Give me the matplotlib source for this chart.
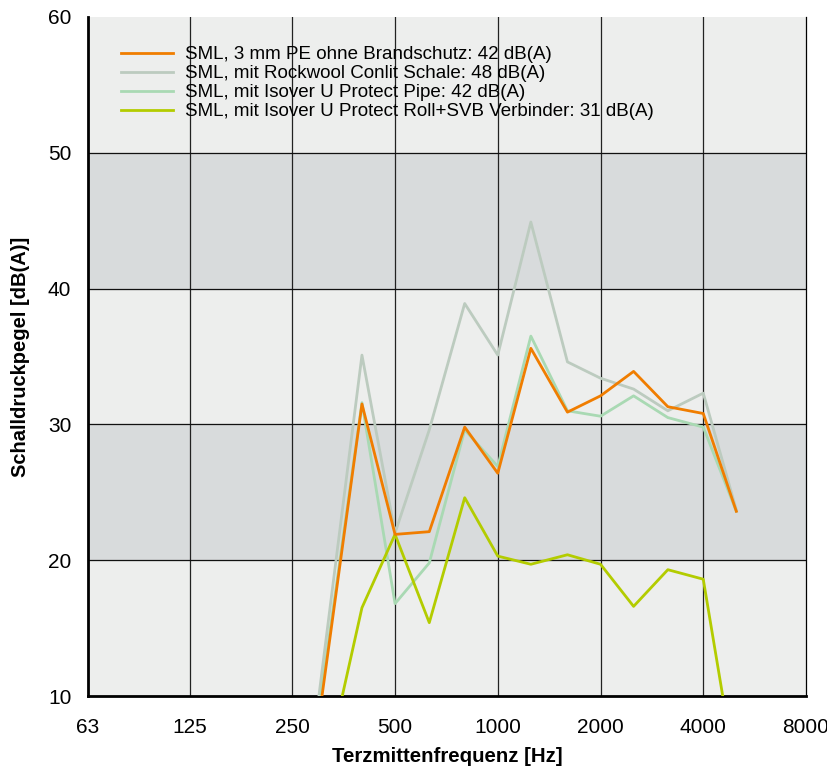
# Schalldruckpegel von SML-Rohren mit verschiedenen Daemmungen
import matplotlib.pyplot as plt
from matplotlib.ticker import FixedLocator, NullLocator

plt.rcParams['font.family'] = ['Liberation Sans', 'DejaVu Sans']

# Terzmittenfrequenzen der Messpunkte [Hz]
freqs = [250, 400, 500, 630, 800, 1000, 1250, 1600, 2000, 2500, 3150, 4000, 5000]

pe_ohne = [-6.0, 31.5, 21.9, 22.1, 29.8, 26.4, 35.6, 30.9, 32.1, 33.9, 31.3, 30.8, 23.6]
rockwool = [-5.5, 35.1, 22.0, 29.6, 38.9, 35.1, 44.9, 34.6, 33.4, 32.6, 31.0, 32.3, 23.7]
isover_pipe = [-5.0, 31.6, 16.8, 19.8, 29.6, 26.9, 36.5, 31.0, 30.6, 32.1, 30.5, 29.8, 23.6]
isover_roll = [-6.5, 16.5, 21.9, 15.4, 24.6, 20.3, 19.7, 20.4, 19.7, 16.6, 19.3, 18.6, 4.0]

labels = ['SML, 3 mm PE ohne Brandschutz: 42 dB(A)',
          'SML, mit Rockwool Conlit Schale: 48 dB(A)',
          'SML, mit Isover U Protect Pipe: 42 dB(A)',
          'SML, mit Isover U Protect Roll+SVB Verbinder: 31 dB(A)']
colors = ['#f07d00', '#bccbbf', '#a9d9b3', '#b3cc00']

xticks = [63, 125, 250, 500, 1000, 2000, 4000, 8000]
yticks = [10, 20, 30, 40, 50, 60]

fig = plt.figure(figsize=(8.27, 7.70), dpi=100)
ax = fig.add_axes([0.1064, 0.0961, 0.8682, 0.8819])

ax.set_facecolor('#edeeed')
for lo in (20, 40):
    ax.axhspan(lo, lo + 10, color='#d8dbdc', zorder=0)

series = [pe_ohne, rockwool, isover_pipe, isover_roll]
order = [1, 2, 0, 3]  # Zeichenreihenfolge
for i in order:
    ax.plot(freqs, series[i], color=colors[i], lw=2, label=labels[i], zorder=3 + (i == 0))

ax.set_xscale('log')
ax.set_xlim(63, 8000)
ax.set_ylim(10, 60)
ax.xaxis.set_major_locator(FixedLocator(xticks))
ax.xaxis.set_minor_locator(NullLocator())
ax.set_xticklabels([str(t) for t in xticks])
ax.set_yticks(yticks)

for t in xticks[1:-1]:
    ax.axvline(t, color='#222222', lw=0.9, zorder=1)
for t in yticks[1:-1]:
    ax.axhline(t, color='#111111', lw=0.9, zorder=1)

ax.tick_params(length=0, labelsize=15)
ax.tick_params(axis='x', pad=16)
ax.tick_params(axis='y', pad=12)

ax.spines['top'].set_visible(False)
ax.spines['right'].set_linewidth(0.9)
ax.spines['left'].set_linewidth(2)
ax.spines['bottom'].set_linewidth(2)

ax.set_xlabel('Terzmittenfrequenz [Hz]', fontsize=14.7, fontweight='bold', labelpad=7)
ax.set_ylabel('Schalldruckpegel [dB(A)]', fontsize=14.5, fontweight='bold', labelpad=13)

h, l = ax.get_legend_handles_labels()
idx = [l.index(s) for s in labels]
ax.legend([h[k] for k in idx], [l[k] for k in idx], loc='upper left',
          bbox_to_anchor=(0.0335, 0.971), frameon=False, fontsize=13.5,
          borderpad=0, handlelength=2.75, handletextpad=0.65, labelspacing=0.1)

fig.savefig('out.png', dpi=100)
